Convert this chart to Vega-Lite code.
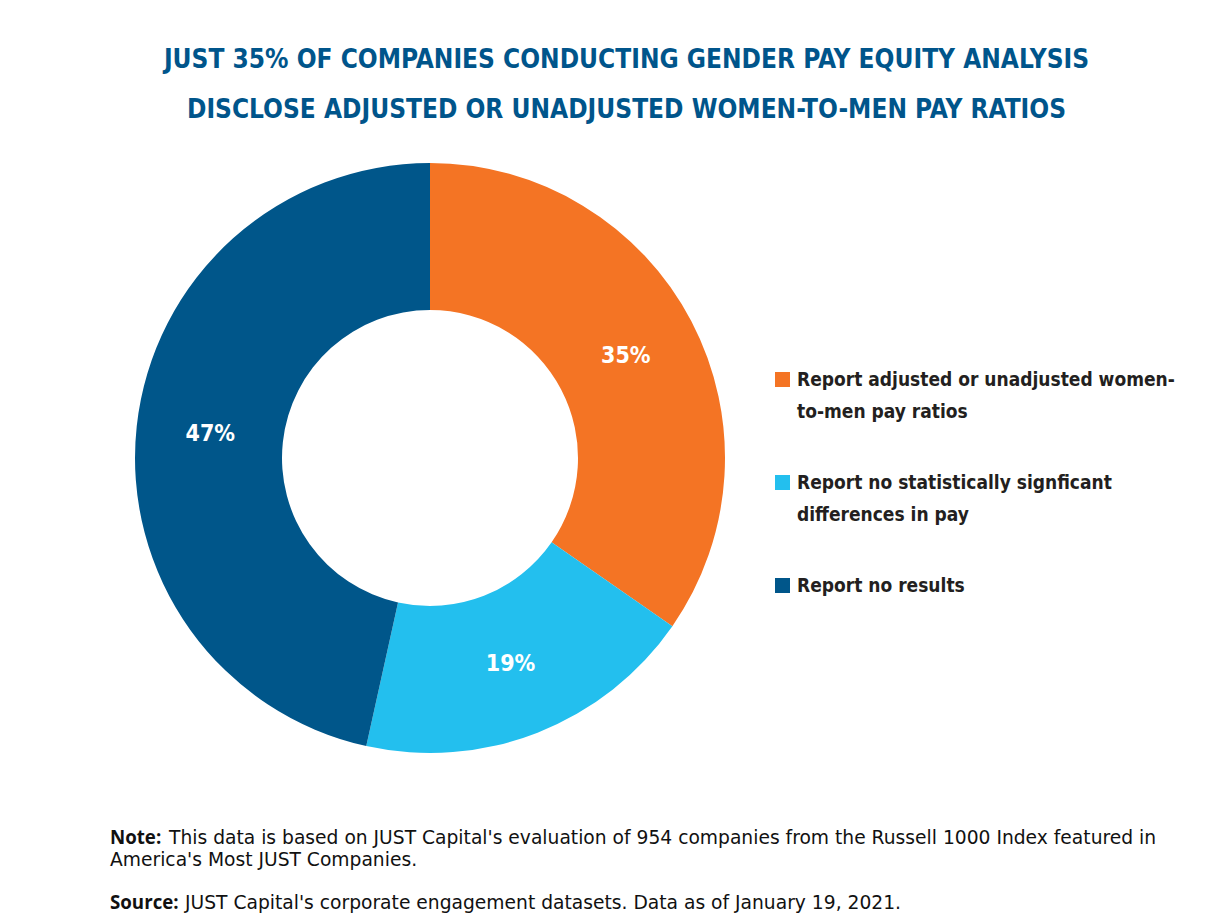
{
  "$schema": "https://vega.github.io/schema/vega-lite/v6.json",
  "background": "white",
  "padding": {"left": 110, "top": 47, "right": 10, "bottom": 12},
  "title": {
    "text": ["JUST 35% OF COMPANIES CONDUCTING GENDER PAY EQUITY ANALYSIS", "DISCLOSE ADJUSTED OR UNADJUSTED WOMEN-TO-MEN PAY RATIOS"],
    "font": "DejaVu Sans Condensed",
    "fontWeight": "bold",
    "fontSize": 26,
    "lineHeight": 50,
    "color": "#00558B",
    "anchor": "middle",
    "offset": 40,
    "dx": -16
  },
  "spacing": 76,
  "vconcat": [
    {
      "width": 640,
      "height": 590,
      "data": {"values": [
        {"category": "Report adjusted or unadjusted women-to-men pay ratios", "pct": 35, "label": "35%", "order": 1},
        {"category": "Report no statistically signficant differences in pay", "pct": 19, "label": "19%", "order": 2},
        {"category": "Report no results", "pct": 47, "label": "47%", "order": 3}
      ]},
      "encoding": {
        "theta": {"field": "pct", "type": "quantitative", "stack": true},
        "order": {"field": "order", "type": "quantitative"},
        "color": {
          "field": "category",
          "type": "nominal",
          "sort": ["Report adjusted or unadjusted women-to-men pay ratios", "Report no statistically signficant differences in pay", "Report no results"],
          "scale": {
            "domain": ["Report adjusted or unadjusted women-to-men pay ratios", "Report no statistically signficant differences in pay", "Report no results"],
            "range": ["#F47424", "#23BFEE", "#00568A"]
          },
          "legend": {
            "orient": "none",
            "legendX": 663,
            "legendY": 207,
            "title": null,
            "symbolType": "square",
            "symbolSize": 225,
            "symbolStrokeWidth": 0,
            "labelFont": "DejaVu Sans Condensed",
            "labelFontWeight": "bold",
            "labelFontSize": 19,
            "labelColor": "#231F20",
            "labelLimit": 500,
            "labelOffset": 5,
            "rowPadding": 51,
            "labelExpr": "datum.label == 'Report adjusted or unadjusted women-to-men pay ratios' ? ['Report adjusted or unadjusted women-', 'to-men pay ratios'] : datum.label == 'Report no statistically signficant differences in pay' ? ['Report no statistically signficant', 'differences in pay'] : datum.label"
          }
        }
      },
      "layer": [
        {"mark": {"type": "arc", "outerRadius": 295, "innerRadius": 148}},
        {
          "mark": {"type": "text", "radius": 221, "font": "DejaVu Sans Condensed", "fontWeight": "bold", "fontSize": 23},
          "encoding": {"text": {"field": "label"}, "color": {"value": "white"}}
        }
      ]
    },
    {
      "width": 1060,
      "height": 65,
      "data": {"values": [
        {"line": 0, "head": "Note:", "text": "This data is based on JUST Capital's evaluation of 954 companies from the Russell 1000 Index featured in", "kind": "note"},
        {"line": 1, "head": "", "text": "America's Most JUST Companies.", "kind": "cont"},
        {"line": 3, "head": "Source:", "text": "JUST Capital's corporate engagement datasets. Data as of January 19, 2021.", "kind": "source"}
      ]},
      "encoding": {
        "x": {"datum": 0, "type": "quantitative", "scale": {"domain": [0, 1]}, "axis": null},
        "y": {"field": "line", "type": "quantitative", "scale": {"domain": [0, 3], "reverse": true}, "axis": null}
      },
      "layer": [
        {
          "mark": {"type": "text", "align": "left", "baseline": "alphabetic", "font": "Open Sans", "fontWeight": "bold", "fontSize": 18.7, "fill": "#111111"},
          "encoding": {"text": {"field": "head"}}
        },
        {
          "transform": [{"filter": "datum.kind == 'note'"}],
          "mark": {"type": "text", "align": "left", "baseline": "alphabetic", "font": "DejaVu Sans", "fontSize": 18.7, "fill": "#111111", "dx": 59},
          "encoding": {"text": {"field": "text"}}
        },
        {
          "transform": [{"filter": "datum.kind == 'cont'"}],
          "mark": {"type": "text", "align": "left", "baseline": "alphabetic", "font": "DejaVu Sans", "fontSize": 18.7, "fill": "#111111"},
          "encoding": {"text": {"field": "text"}}
        },
        {
          "transform": [{"filter": "datum.kind == 'source'"}],
          "mark": {"type": "text", "align": "left", "baseline": "alphabetic", "font": "DejaVu Sans", "fontSize": 18.7, "fill": "#111111", "dx": 75},
          "encoding": {"text": {"field": "text"}}
        }
      ]
    }
  ],
  "config": {
    "view": {"stroke": null},
    "style": {"guide-label": {"lineHeight": 32}}
  }
}
